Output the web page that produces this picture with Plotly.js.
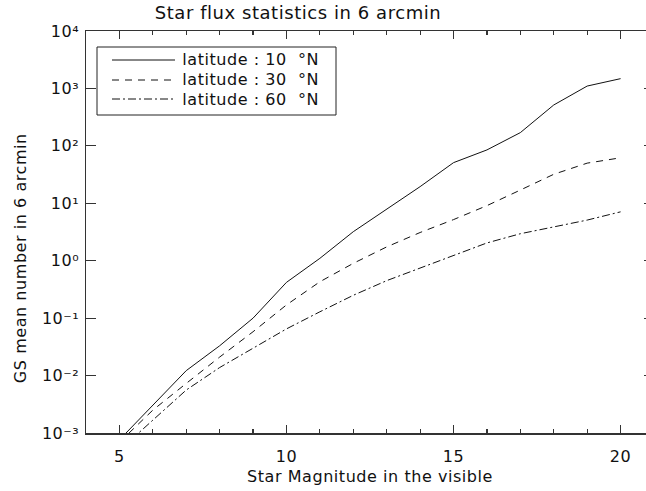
<!DOCTYPE html>
<html>
<head>
<meta charset="utf-8">
<script src="https://cdn.plot.ly/plotly-3.0.1.min.js"></script>
<style>
html, body { margin: 0; padding: 0; overflow: hidden; background: #fff; }
#chart { width: 656px; height: 491px; }
#chart text { letter-spacing: 0.55px; }
</style>
</head>
<body>
<div id="chart"></div>
<script>
// Star magnitude (visible)
var magnitudes = [5, 6, 7, 8, 9, 10, 11, 12, 13, 14, 15, 16, 17, 18, 19, 20];
// GS mean number in 6 arcmin for each latitude
var lat10 = [7.6e-4, 3.1e-3, 1.22e-2, 3.3e-2, 0.1, 0.42, 1.1, 3.2, 7.9, 19.5, 51, 85, 170, 515, 1100, 1480];
var lat30 = [6.9e-4, 2.5e-3, 7.3e-3, 2.1e-2, 5.8e-2, 0.17, 0.43, 0.9, 1.74, 3.1, 5.2, 9.1, 17, 32, 50, 62];
var lat60 = [5.0e-4, 1.66e-3, 5.6e-3, 1.38e-2, 3.0e-2, 6.5e-2, 0.129, 0.25, 0.45, 0.74, 1.25, 2.04, 2.95, 3.9, 5.1, 7.1];
var seriesNames = ['latitude : 10 \u00a0°N', 'latitude : 30 \u00a0°N', 'latitude : 60 \u00a0°N'];
var seriesDash = ['solid', '7px,6px', '8px,3px,2px,3px'];

var yTickVals = [1e-3, 1e-2, 1e-1, 1, 10, 100, 1000, 10000];
var yTickText = ['10\u207B\u00B3', '10\u207B\u00B2', '10\u207B\u00B9', '10\u2070',
                 '10\u00B9', '10\u00B2', '10\u00B3', '10\u2074'];

var titleText = 'Star flux statistics in 6 arcmin';
var xTitleText = 'Star Magnitude in the visible';
var yTitleText = 'GS mean number in 6 arcmin';

var FONT = 'DejaVu Sans';
var INK = '#111';
var FRAME = '#333';

// plot-area geometry (pixels) used for the hand-drawn legend box
var PL = 86, PW = 568, PB = 433, PH = 402;
function px(x) { return (x - PL) / PW; }
function py(y) { return (PB - y) / PH; }

var seriesValues = [lat10, lat30, lat60];
var traces = seriesValues.map(function (vals, i) {
  return {x: magnitudes, y: vals, name: seriesNames[i], mode: 'lines',
          line: {color: INK, width: 1, dash: seriesDash[i]}, showlegend: false};
});

// legend drawn with library shapes + annotations (IDL-style box)
var legendRowsY = [60, 80, 99];
var shapes = [{type: 'rect', xref: 'paper', yref: 'paper', x0: px(97), x1: px(336), y0: py(115), y1: py(47),
               line: {color: '#222', width: 1}, fillcolor: '#fff', layer: 'above'}];
var annotations = [];
legendRowsY.forEach(function (yy, i) {
  shapes.push({type: 'line', xref: 'paper', yref: 'paper', x0: px(112), x1: px(175), y0: py(yy), y1: py(yy),
               line: {color: INK, width: 1, dash: seriesDash[i]}, layer: 'above'});
  annotations.push({text: seriesNames[i], xref: 'paper', yref: 'paper', x: px(185), y: py(yy),
                    xanchor: 'left', yanchor: 'middle', showarrow: false,
                    font: {family: FONT, size: 16, color: INK}});
});
annotations.push({text: yTitleText, xref: 'paper', yref: 'paper', x: 0, y: py(258), xanchor: 'center', yanchor: 'middle',
                  xshift: -(PL - 20), textangle: -90, showarrow: false, font: {family: FONT, size: 16, color: INK}});

var layout = {
  width: 656, height: 491,
  margin: {l: 86, r: 2, t: 31, b: 58},
  paper_bgcolor: '#fff', plot_bgcolor: '#fff',
  font: {family: FONT, color: INK},
  title: {text: titleText, font: {family: FONT, size: 18, color: INK},
          x: 298 / 656, xref: 'container', xanchor: 'center', y: 1 - 13 / 491, yanchor: 'middle'},
  xaxis: {range: [4, 21], tickmode: 'linear', tick0: 0, dtick: 5,
          showline: true, mirror: 'allticks', linecolor: FRAME, linewidth: 1.5,
          ticks: 'inside', ticklen: 8, tickwidth: 1.2, tickcolor: FRAME,
          showgrid: false, zeroline: false, ticklabelstandoff: 8,
          tickfont: {family: FONT, size: 16, color: INK},
          minor: {dtick: 1, ticklen: 4, ticks: 'inside', tickwidth: 1.2, tickcolor: FRAME, showgrid: false},
          title: {text: xTitleText, font: {family: FONT, size: 16, color: INK}, standoff: 6}},
  yaxis: {type: 'log', range: [-3, 4], tickmode: 'array', tickvals: yTickVals, ticktext: yTickText,
          showline: true, mirror: 'allticks', linecolor: FRAME, linewidth: 1.5,
          ticks: 'inside', ticklen: 10, tickwidth: 1.2, tickcolor: FRAME,
          showgrid: false, zeroline: false, ticklabelstandoff: 2,
          tickfont: {family: FONT, size: 16, color: INK}},
  showlegend: false,
  shapes: shapes,
  annotations: annotations
};

Plotly.newPlot('chart', traces, layout, {displayModeBar: false, staticPlot: true});
</script>
</body>
</html>
